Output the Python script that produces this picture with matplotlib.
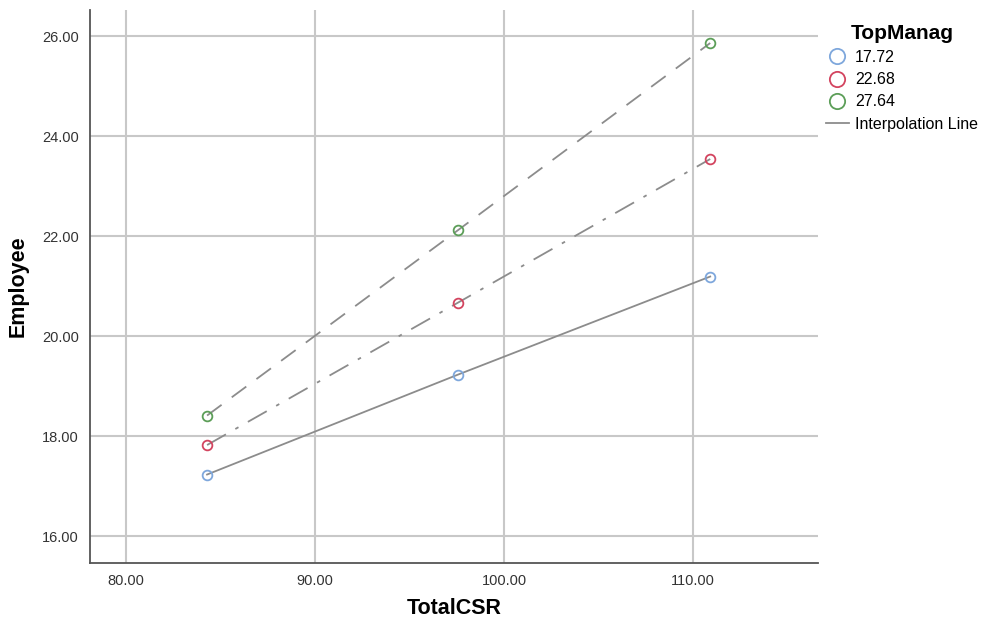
import numpy as np
import matplotlib.pyplot as plt
from matplotlib.lines import Line2D

plt.rcParams['font.family'] = ['Liberation Sans', 'DejaVu Sans']

total_csr = [84.29, 97.57, 110.90]
groups = ["17.72", "22.68", "27.64"]
employee = {
    "17.72": [17.23, 19.23, 21.19],
    "22.68": [17.82, 20.67, 23.54],
    "27.64": [18.41, 22.12, 25.86],
}
colors = {"17.72": "#7ea7dc", "22.68": "#d3445f", "27.64": "#5c9e58"}
styles = {"17.72": "-", "22.68": (0, (12, 6, 2, 6)), "27.64": (0, (10, 7))}

xticks = [80, 90, 100, 110]
yticks = [16, 18, 20, 22, 24, 26]

fig = plt.figure(figsize=(9.86, 6.27), dpi=100)
ax = fig.add_axes([0.0913, 0.102, 0.7383, 0.882])

for g in groups:
    ax.plot(total_csr, employee[g], color="#8c8c8c", lw=1.3, linestyle=styles[g], zorder=2)
    ax.plot(total_csr, employee[g], "o", mfc="none", mec=colors[g], mew=1.3, ms=7, zorder=3)

ax.set_xlim(78.1, 116.6)
ax.set_ylim(15.46, 26.52)
ax.set_xticks(xticks)
ax.set_yticks(yticks)
ax.set_xticklabels(["%.2f" % v for v in xticks])
ax.set_yticklabels(["%.2f" % v for v in yticks])
ax.tick_params(length=0, labelsize=10.5, colors="#333333", pad=8)
ax.grid(True, color="#c8c8c8", lw=1.5)
ax.set_axisbelow(True)
for s in ["top", "right"]:
    ax.spines[s].set_visible(False)
for s in ["left", "bottom"]:
    ax.spines[s].set_color("#555555")
    ax.spines[s].set_linewidth(1.3)

ax.set_xlabel("TotalCSR", fontsize=15.5, fontweight="bold", labelpad=7)
ax.set_ylabel("Employee", fontsize=15.5, fontweight="bold", labelpad=10)

handles = [Line2D([], [], marker="o", ls="none", mfc="none", mec=colors[g], mew=1.3, ms=11) for g in groups]
handles.append(Line2D([], [], color="#8c8c8c", lw=1.3))
labels = groups + ["Interpolation Line"]
leg = fig.legend(handles, labels, loc="upper left", bbox_to_anchor=(0.838, 0.962),
                 frameon=False, title="TopManag", fontsize=11.5,
                 title_fontproperties={"weight": "bold", "size": 15},
                 handlelength=1.4, handletextpad=0.4, labelspacing=0.45, borderaxespad=0,
                 borderpad=0)

fig.savefig("out.png", dpi=100)
